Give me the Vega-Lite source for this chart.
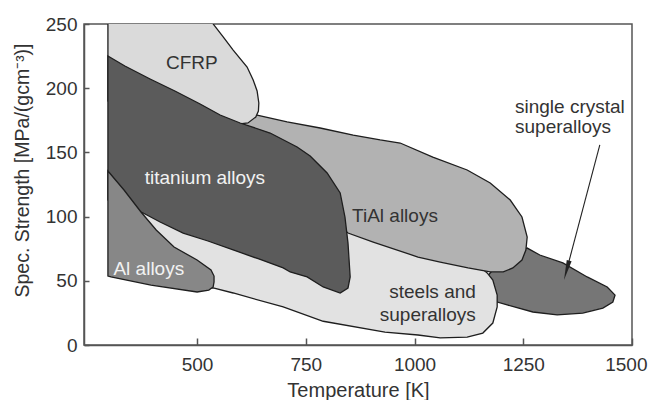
{
  "$schema": "https://vega.github.io/schema/vega-lite/v6.json",
  "width": 548,
  "height": 321,
  "autosize": "none",
  "padding": {"left": 84, "top": 24, "right": 16, "bottom": 55},
  "background": "white",
  "config": {
    "font": "Liberation Sans",
    "view": {"stroke": "#555555", "strokeWidth": 1.5},
    "axis": {
      "grid": false,
      "domainColor": "#555555",
      "domainWidth": 1.5,
      "tickColor": "#555555",
      "tickWidth": 1.5,
      "labelFont": "Liberation Sans",
      "labelFontSize": 19,
      "labelColor": "#333333",
      "titleFont": "Liberation Sans",
      "titleFontSize": 20,
      "titleFontWeight": "normal",
      "titleColor": "#333333"
    }
  },
  "encoding": {
    "x": {
      "field": "x",
      "type": "quantitative",
      "scale": {"domain": [240, 1500], "nice": false, "zero": false},
      "axis": {
        "values": [500, 750, 1000, 1250, 1500],
        "format": "d",
        "tickSize": -7,
        "labelPadding": 17,
        "labelFlush": false,
        "labelOverlap": false,
        "labelBound": false,
        "labelAlign": {"condition": {"test": "datum.value == 1500", "value": "right"}, "value": "center"},
        "labelOffset": {"condition": {"test": "datum.value == 1500", "value": 15}, "value": 0},
        "titlePadding": 6
      },
      "title": "Temperature [K]"
    },
    "y": {
      "field": "y",
      "type": "quantitative",
      "scale": {"domain": [0, 250], "nice": false, "zero": false},
      "axis": {"values": [0, 50, 100, 150, 200, 250], "format": "d", "tickSize": -5, "labelPadding": 12, "titlePadding": 13, "titleY": 146, "titleFontSize": 19.5},
      "title": "Spec. Strength [MPa/(gcm⁻³)]"
    }
  },
  "layer": [
    {
      "data": {"values": [
        {"i": 0, "x": 1151, "y": 46.7}, {"i": 1, "x": 1208, "y": 70.1}, {"i": 2, "x": 1259, "y": 75.5},
        {"i": 3, "x": 1288, "y": 70.1}, {"i": 4, "x": 1341, "y": 63.9}, {"i": 5, "x": 1397, "y": 53},
        {"i": 6, "x": 1443, "y": 45.2}, {"i": 7, "x": 1461, "y": 38.9}, {"i": 8, "x": 1456, "y": 33.5},
        {"i": 9, "x": 1433, "y": 28.8}, {"i": 10, "x": 1387, "y": 24.9}, {"i": 11, "x": 1328, "y": 23.4},
        {"i": 12, "x": 1272, "y": 25.7}, {"i": 13, "x": 1213, "y": 31.2}, {"i": 14, "x": 1174, "y": 35}
      ]},
      "mark": {"type": "line", "interpolate": "linear-closed", "fill": "#767676", "stroke": "#1e1e1e", "strokeWidth": 1.3, "clip": true},
      "encoding": {"order": {"field": "i"}}
    },
    {
      "data": {"values": [
        {"i": 0, "x": 313, "y": 112.9}, {"i": 1, "x": 507, "y": 101.2}, {"i": 2, "x": 737, "y": 81.8},
        {"i": 3, "x": 852, "y": 93.5}, {"i": 4, "x": 1013, "y": 77.9}, {"i": 5, "x": 1128, "y": 67.8},
        {"i": 6, "x": 1167, "y": 56.1}, {"i": 7, "x": 1180, "y": 50.6}, {"i": 8, "x": 1190, "y": 38.9},
        {"i": 9, "x": 1190, "y": 29.6}, {"i": 10, "x": 1180, "y": 17.1}, {"i": 11, "x": 1157, "y": 9.3},
        {"i": 12, "x": 1121, "y": 6.2}, {"i": 13, "x": 1059, "y": 5.5}, {"i": 14, "x": 1008, "y": 7.8},
        {"i": 15, "x": 932, "y": 10.1}, {"i": 16, "x": 790, "y": 18.5}, {"i": 17, "x": 698, "y": 29.6},
        {"i": 18, "x": 583, "y": 40.5}, {"i": 19, "x": 537, "y": 44.4}, {"i": 20, "x": 484, "y": 45.2},
        {"i": 21, "x": 313, "y": 58.4}
      ]},
      "mark": {"type": "line", "interpolate": "linear-closed", "fill": "#e2e2e2", "stroke": "#1e1e1e", "strokeWidth": 1.3, "clip": true},
      "encoding": {"order": {"field": "i"}}
    },
    {
      "data": {"values": [
        {"i": 0, "x": 576, "y": 183}, {"i": 1, "x": 638, "y": 179.1}, {"i": 2, "x": 707, "y": 173.7},
        {"i": 3, "x": 783, "y": 169}, {"i": 4, "x": 859, "y": 163.5}, {"i": 5, "x": 921, "y": 159.7},
        {"i": 6, "x": 967, "y": 157.3}, {"i": 7, "x": 1042, "y": 146.4}, {"i": 8, "x": 1121, "y": 136.3},
        {"i": 9, "x": 1174, "y": 126.2}, {"i": 10, "x": 1220, "y": 112.9}, {"i": 11, "x": 1247, "y": 99.7},
        {"i": 12, "x": 1259, "y": 84.1}, {"i": 13, "x": 1256, "y": 74}, {"i": 14, "x": 1247, "y": 66.2},
        {"i": 15, "x": 1226, "y": 60}, {"i": 16, "x": 1204, "y": 56.9}, {"i": 17, "x": 1174, "y": 56.9},
        {"i": 18, "x": 1123, "y": 60}, {"i": 19, "x": 1059, "y": 64.6}, {"i": 20, "x": 1008, "y": 68.5},
        {"i": 21, "x": 905, "y": 80.2}, {"i": 22, "x": 847, "y": 87.2}, {"i": 23, "x": 783, "y": 105.1},
        {"i": 24, "x": 668, "y": 151.9}, {"i": 25, "x": 587, "y": 169}
      ]},
      "mark": {"type": "line", "interpolate": "linear-closed", "fill": "#b2b2b2", "stroke": "#1e1e1e", "strokeWidth": 1.3, "clip": true},
      "encoding": {"order": {"field": "i"}}
    },
    {
      "data": {"values": [
        {"i": 0, "x": 295, "y": 261}, {"i": 1, "x": 525, "y": 261}, {"i": 2, "x": 537, "y": 250},
        {"i": 3, "x": 560, "y": 240}, {"i": 4, "x": 583, "y": 229.7}, {"i": 5, "x": 615, "y": 216.5},
        {"i": 6, "x": 629, "y": 206.4}, {"i": 7, "x": 638, "y": 197.8}, {"i": 8, "x": 642, "y": 188.5},
        {"i": 9, "x": 641, "y": 182.2}, {"i": 10, "x": 635, "y": 177.6}, {"i": 11, "x": 617, "y": 172.9},
        {"i": 12, "x": 594, "y": 172.1}, {"i": 13, "x": 560, "y": 165}, {"i": 14, "x": 295, "y": 190}
      ]},
      "mark": {"type": "line", "interpolate": "linear-closed", "fill": "#dadada", "stroke": "#1e1e1e", "strokeWidth": 1.3, "clip": true},
      "encoding": {"order": {"field": "i"}}
    },
    {
      "data": {"values": [
        {"i": 0, "x": 295, "y": 225.1}, {"i": 1, "x": 334, "y": 217.3}, {"i": 2, "x": 392, "y": 207.2},
        {"i": 3, "x": 449, "y": 197.8}, {"i": 4, "x": 507, "y": 187.7}, {"i": 5, "x": 553, "y": 179.1},
        {"i": 6, "x": 599, "y": 172.9}, {"i": 7, "x": 668, "y": 165.1}, {"i": 8, "x": 730, "y": 154.2},
        {"i": 9, "x": 760, "y": 147.2}, {"i": 10, "x": 799, "y": 134}, {"i": 11, "x": 829, "y": 118.4},
        {"i": 12, "x": 840, "y": 99.7}, {"i": 13, "x": 847, "y": 79.4}, {"i": 14, "x": 852, "y": 53},
        {"i": 15, "x": 847, "y": 44.4}, {"i": 16, "x": 829, "y": 40.5}, {"i": 17, "x": 790, "y": 45.2},
        {"i": 18, "x": 753, "y": 53}, {"i": 19, "x": 714, "y": 56.9}, {"i": 20, "x": 698, "y": 60},
        {"i": 21, "x": 642, "y": 67}, {"i": 22, "x": 583, "y": 74}, {"i": 23, "x": 525, "y": 81},
        {"i": 24, "x": 468, "y": 87.2}, {"i": 25, "x": 415, "y": 95.8}, {"i": 26, "x": 376, "y": 102.8},
        {"i": 27, "x": 334, "y": 109}, {"i": 28, "x": 295, "y": 112.9}
      ]},
      "mark": {"type": "line", "interpolate": "linear-closed", "fill": "#5b5b5b", "stroke": "#1e1e1e", "strokeWidth": 1.3, "clip": true},
      "encoding": {"order": {"field": "i"}}
    },
    {
      "data": {"values": [
        {"i": 0, "x": 295, "y": 135.5}, {"i": 1, "x": 332, "y": 120.7}, {"i": 2, "x": 371, "y": 103.6},
        {"i": 3, "x": 406, "y": 89.6}, {"i": 4, "x": 447, "y": 76.3}, {"i": 5, "x": 500, "y": 66.2},
        {"i": 6, "x": 532, "y": 58.4}, {"i": 7, "x": 539, "y": 53.7}, {"i": 8, "x": 539, "y": 49.1},
        {"i": 9, "x": 537, "y": 45.2}, {"i": 10, "x": 527, "y": 42.8}, {"i": 11, "x": 500, "y": 41.3},
        {"i": 12, "x": 394, "y": 46.7}, {"i": 13, "x": 302, "y": 53}, {"i": 14, "x": 295, "y": 53.7}
      ]},
      "mark": {"type": "line", "interpolate": "linear-closed", "fill": "#878787", "stroke": "#1e1e1e", "strokeWidth": 1.3, "clip": true},
      "encoding": {"order": {"field": "i"}}
    },
    {
      "data": {"values": [{"x": 1426, "y": 155.8, "x2": 1349.6, "y2": 58.2}]},
      "mark": {"type": "rule", "color": "#222222", "strokeWidth": 1.1},
      "encoding": {"x2": {"field": "x2"}, "y2": {"field": "y2"}}
    },
    {
      "data": {"values": [{"x": 1349.6, "y": 58.2}]},
      "mark": {"type": "point", "shape": "M0,1L-0.25,-1L0.25,-1Z", "size": 400, "angle": 15, "filled": true, "fill": "#222222", "stroke": null, "opacity": 1},
      "encoding": {}
    },
    {
      "data": {"values": [
        {"label": "CFRP", "x": 488, "y": 220},
        {"label": "TiAl alloys", "x": 955, "y": 100.5}
      ]},
      "mark": {"type": "text", "font": "Liberation Sans", "fontSize": 19, "color": "#333333", "align": "center", "baseline": "middle"},
      "encoding": {"text": {"field": "label"}}
    },
    {
      "data": {"values": [
        {"label": "titanium alloys", "x": 518, "y": 130},
        {"label": "Al alloys", "x": 389, "y": 59}
      ]},
      "mark": {"type": "text", "font": "Liberation Sans", "fontSize": 19, "color": "#f2f2f2", "align": "center", "baseline": "middle"},
      "encoding": {"text": {"field": "label"}}
    },
    {
      "data": {"values": [
        {"label": "steels and", "x": 1141, "y": 41.3},
        {"label": "superalloys", "x": 1141, "y": 23.4}
      ]},
      "mark": {"type": "text", "font": "Liberation Sans", "fontSize": 19, "color": "#333333", "align": "right", "baseline": "middle"},
      "encoding": {"text": {"field": "label"}}
    },
    {
      "data": {"values": [
        {"label": "single crystal", "x": 1231, "y": 185.4},
        {"label": "superalloys", "x": 1231, "y": 169.8}
      ]},
      "mark": {"type": "text", "font": "Liberation Sans", "fontSize": 19, "color": "#333333", "align": "left", "baseline": "middle"},
      "encoding": {"text": {"field": "label"}}
    }
  ]
}
